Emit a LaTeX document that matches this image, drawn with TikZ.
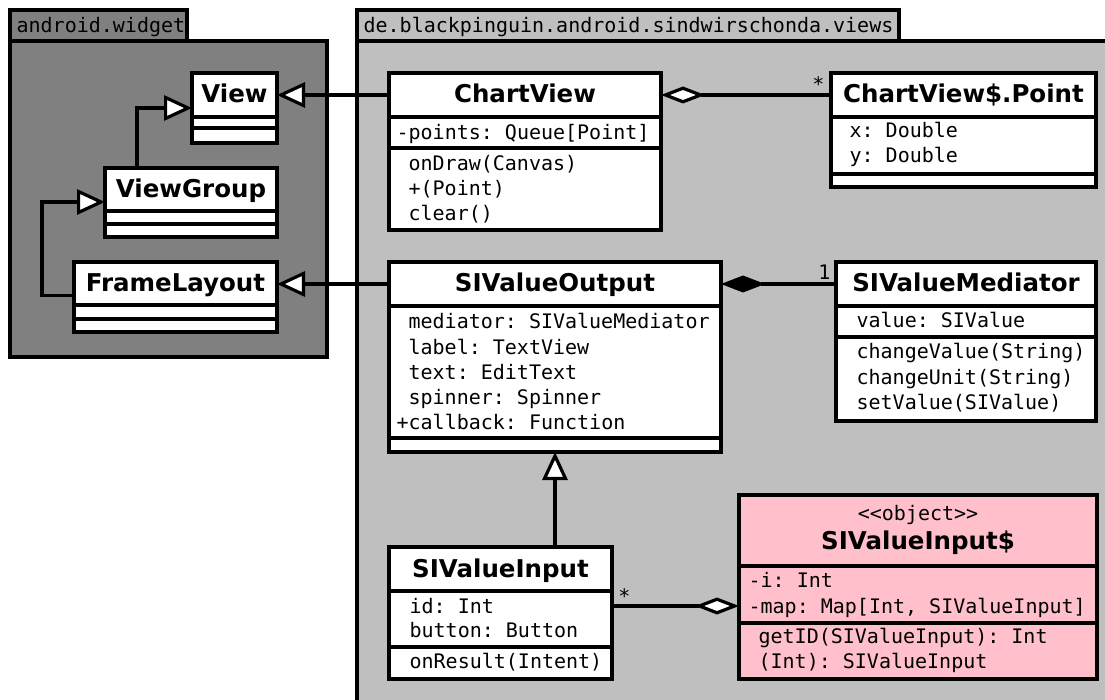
\documentclass[tikz,border=0pt]{standalone}
\usepackage{fontspec}
\setmainfont{DejaVu Sans}
\setmonofont{DejaVu Sans Mono}
\usetikzlibrary{arrows.meta,calc}
\definecolor{pkgdark}{gray}{0.5}
\definecolor{pkglight}{gray}{0.75}
\definecolor{objpink}{RGB}{255,192,203}
\begin{document}
\begin{tikzpicture}[x=1pt,y=-1pt,line width=3.2pt,
 box/.style={draw,fill=white,inner sep=0pt,outer sep=0pt,anchor=north west},
 hdr/.style={box,font=\fontsize{24.5}{28}\selectfont\bfseries,text height=20pt,text depth=4pt},
 pkg/.style={draw,inner sep=0pt,outer sep=0pt,anchor=north west},
 mono/.style={font=\fontsize{20}{24}\selectfont\ttfamily,anchor=base west,inner sep=0pt},
 ttl/.style={font=\fontsize{24.5}{28}\selectfont\bfseries,anchor=base,inner sep=0pt},
 mult/.style={font=\fontsize{20}{24}\selectfont\ttfamily,anchor=base,inner sep=0pt},
 gen/.style={-{Triangle[fill=white,length=28pt,width=25pt]}},
 agg/.style={{Diamond[fill=white,length=44pt,width=17pt]}-},
 comp/.style={{Diamond[length=44pt,width=17pt]}-}]
\useasboundingbox (0,0) rectangle (1105,700);
\clip (0,0) rectangle (1105,700);
\fill[white] (0,0) rectangle (1105,700);
% packages
\node[pkg,fill=pkgdark,minimum width=317pt,minimum height=316pt] (wbody) at (10,41) {};
\node[pkg,fill=pkgdark,minimum width=177pt,minimum height=31pt] (wtab) at (10,10) {};
\node[mono] (wname) at (15,33) {android.widget};
\node[pkg,fill=pkglight,minimum width=760pt,minimum height=670pt] (vbody) at (357,41) {};
\node[pkg,fill=pkglight,minimum width=542pt,minimum height=31pt] (vtab) at (357,10) {};
\node[mono] (vname) at (362,33) {de.blackpinguin.android.sindwirschonda.views};
% android.widget classes
\node[hdr,minimum width=85pt,minimum height=44pt] (viewH) at (192,73) {View};
\node[box,minimum width=85pt,minimum height=11pt] (viewA) at (192,117) {};
\node[box,minimum width=85pt,minimum height=15pt] (viewM) at (192,128) {};
\node[hdr,minimum width=172pt,minimum height=43pt] (vgH) at (105,168) {ViewGroup};
\node[box,minimum width=172pt,minimum height=13pt] (vgA) at (105,211) {};
\node[box,minimum width=172pt,minimum height=13pt] (vgM) at (105,224) {};
\node[hdr,minimum width=203pt,minimum height=43pt] (flH) at (74,262) {FrameLayout};
\node[box,minimum width=203pt,minimum height=14pt] (flA) at (74,305) {};
\node[box,minimum width=203pt,minimum height=13pt] (flM) at (74,319) {};
% ChartView
\node[hdr,minimum width=272pt,minimum height=44pt] (cvH) at (389,73) {ChartView};
\node[box,minimum width=272pt,minimum height=31pt] (cvA) at (389,117) {};
\node[box,minimum width=272pt,minimum height=82pt] (cvM) at (389,148) {};
\node[mono] (cva1) at (395,140) {-points: Queue[Point]};
\foreach \t [count=\i] in {onDraw(Canvas),+(Point),clear()}
  \node[mono] (cvm\i) at (407,{146+25*\i}) {\t};
% ChartView$.Point
\node[hdr,minimum width=265pt,minimum height=44pt] (ptH) at (831,73) {ChartView\$.Point};
\node[box,minimum width=265pt,minimum height=57pt] (ptA) at (831,117) {};
\node[box,minimum width=265pt,minimum height=13pt] (ptM) at (831,174) {};
\node[mono] (pta1) at (848,138) {x: Double};
\node[mono] (pta2) at (848,163) {y: Double};
% SIValueOutput
\node[hdr,minimum width=332pt,minimum height=44pt] (soH) at (389,262) {SIValueOutput};
\node[box,minimum width=332pt,minimum height=132pt] (soA) at (389,306) {};
\node[box,minimum width=332pt,minimum height=14pt] (soM) at (389,438) {};
\foreach \t [count=\i] in {mediator: SIValueMediator,label: TextView,text: EditText,spinner: Spinner}
  \node[mono] (soa\i) at (407,{304+25*\i}) {\t};
\node[mono] (soa5) at (395,429) {+callback: Function};
% SIValueMediator
\node[hdr,minimum width=260pt,minimum height=44pt] (medH) at (836,262) {SIValueMediator};
\node[box,minimum width=260pt,minimum height=31pt] (medA) at (836,306) {};
\node[box,minimum width=260pt,minimum height=84pt] (medM) at (836,337) {};
\node[mono] (meda1) at (855,328) {value: SIValue};
\foreach \t [count=\i] in {changeValue(String),changeUnit(String),setValue(SIValue)}
  \node[mono] (medm\i) at (855,{334+25*\i}) {\t};
% SIValueInput
\node[hdr,minimum width=223pt,minimum height=44pt] (siH) at (389,547) {SIValueInput};
\node[box,minimum width=223pt,minimum height=56pt] (siA) at (389,591) {};
\node[box,minimum width=223pt,minimum height=32pt] (siM) at (389,647) {};
\node[mono] (sia1) at (408,613) {id: Int};
\node[mono] (sia2) at (408,637) {button: Button};
\node[mono] (sim1) at (408,668) {onResult(Intent)};
% SIValueInput$
\node[box,fill=objpink,minimum width=358pt,minimum height=71pt] (objH) at (739,495) {};
\node[box,fill=objpink,minimum width=358pt,minimum height=57pt] (objA) at (739,566) {};
\node[box,fill=objpink,minimum width=358pt,minimum height=56pt] (objM) at (739,623) {};
\node[mono,anchor=base] (objst) at (918,520) {<{}<object>{}>};
\node[ttl] (objt) at (918,549) {SIValueInput\$};
\node[mono] (obja1) at (747,587) {-i: Int};
\node[mono] (obja2) at (747,613) {-map: Map[Int, SIValueInput]};
\node[mono] (objm1) at (757,643) {getID(SIValueInput): Int};
\node[mono] (objm2) at (757,668) {(Int): SIValueInput};
% connectors
\draw[gen] (cvH.west) -- (viewH.east);
\draw[gen] (soH.west) -- (soH.west -| flH.east);
\draw[gen] ($(vgH.north west)+(32,0)$) |- ($(viewH.west)+(0,13)$);
\draw[gen] ($(flH.west)+(0,12)$) -- ++(-32,0) |- ($(vgH.west)+(0,12.5)$);
\draw[agg] (cvH.east) -- (ptH.west);
\draw[comp] (soH.east) -- (medH.west);
\draw[gen] (siH.north -| soM.south) -- (soM.south);
\path ($(objA.west)+(0,11.5)$) coordinate (aggend);
\draw[agg] (aggend) -- (aggend -| siA.east);
% multiplicities
\node[mult] (m1) at (818.5,92) {*};
\node[mult] (m2) at (824.5,280) {1};
\node[mult] (m3) at (624.5,603) {*};
\end{tikzpicture}
\end{document}
